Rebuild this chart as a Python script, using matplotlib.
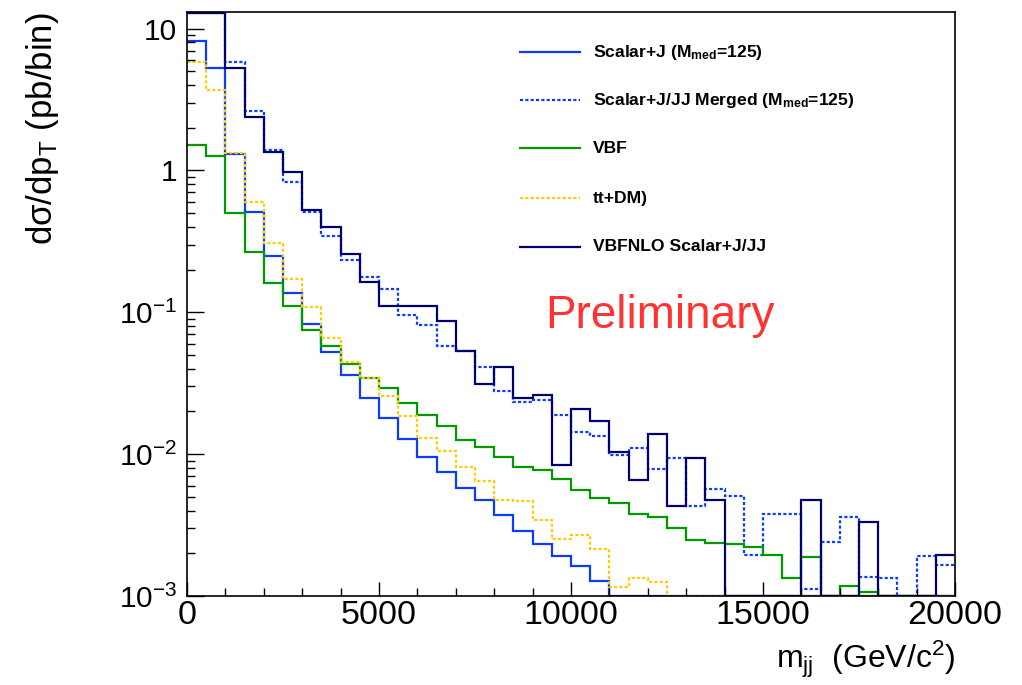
import numpy as np
import matplotlib
matplotlib.use("Agg")
import matplotlib.pyplot as plt
from matplotlib.ticker import FixedLocator, FixedFormatter, LogLocator, MultipleLocator, NullFormatter

plt.rcParams['font.family'] = ['Liberation Sans', 'DejaVu Sans']
plt.rcParams['mathtext.fontset'] = 'custom'
plt.rcParams['mathtext.rm'] = 'Liberation Sans'
plt.rcParams['mathtext.it'] = 'Liberation Sans:italic'
plt.rcParams['mathtext.bf'] = 'Liberation Sans:bold'

# ---------------- data ----------------
bin_edges = np.arange(0, 20001, 500)  # 40 bins of 500 GeV

scalar_j = [8.18, 5.31, 1.30, 0.508, 0.248, 0.137, 0.083, 0.0528, 0.0361, 0.0249,
            0.0180, 0.0128, 0.00953, 0.00743, 0.00577, 0.00477, 0.00374, 0.00288, 0.00233, 0.00192,
            0.00162, 0.00128, 0, 0, 0, 0, 0, 0, 0, 0,
            0, 0, 0, 0, 0, 0, 0, 0, 0, 0]

scalar_merged = [13.1, 13.1, 5.82, 2.62, 1.39, 0.83, 0.51, 0.346, 0.232, 0.178,
                 0.145, 0.0957, 0.0815, 0.0577, 0.053, 0.0414, 0.0279, 0.0233, 0.0239, 0.0188,
                 0.0144, 0.0135, 0.00989, 0.0111, 0.0078, 0.00942, 0.00431, 0.0057, 0.0051, 0.00193,
                 0.0038, 0.0038, 0.00112, 0.00241, 0.00358, 0.00136, 0.00134, 0, 0.0019, 0.00165]

vbf = [1.52, 1.26, 0.50, 0.267, 0.160, 0.111, 0.075, 0.0582, 0.0433, 0.0347,
       0.0294, 0.0229, 0.0189, 0.0159, 0.0125, 0.0112, 0.00957, 0.00818, 0.0077, 0.0067,
       0.00557, 0.00492, 0.00449, 0.00376, 0.0036, 0.00303, 0.00248, 0.00237, 0.00233, 0.00221,
       0.00196, 0.00133, 0.00189, 0, 0.00118, 0.00106, 0, 0, 0, 0]

ttdm = [5.82, 3.72, 1.32, 0.596, 0.306, 0.173, 0.109, 0.0662, 0.0445, 0.0343,
        0.0259, 0.0187, 0.0131, 0.0105, 0.00809, 0.00652, 0.00477, 0.00469, 0.00344, 0.00252,
        0.00269, 0.00215, 0.00116, 0.00133, 0.00126, 0, 0, 0, 0, 0,
        0, 0, 0, 0, 0, 0, 0, 0, 0, 0]

vbfnlo = [13.1, 13.1, 5.25, 2.39, 1.35, 0.977, 0.525, 0.397, 0.258, 0.163,
          0.111, 0.111, 0.111, 0.0865, 0.0531, 0.0313, 0.0412, 0.0249, 0.0262, 0.00841,
          0.0207, 0.0172, 0.0104, 0.00656, 0.0139, 0.00434, 0.00938, 0.00474, 0, 0,
          0, 0, 0.00477, 0, 0, 0.00335, 0, 0, 0, 0.00193]

legend_labels = [r"Scalar+J (M$_{\mathbf{med}}$=125)",
                 r"Scalar+J/JJ Merged (M$_{\mathbf{med}}$=125)",
                 "VBF",
                 "tt+DM)",
                 "VBFNLO Scalar+J/JJ"]

x_ticks = [0, 5000, 10000, 15000, 20000]
x_tick_labels = ["0", "5000", "10000", "15000", "20000"]
y_ticks = [1e-3, 1e-2, 1e-1, 1, 10]
y_tick_labels = [r"$\mathregular{10^{-3}}$", r"$\mathregular{10^{-2}}$", r"$\mathregular{10^{-1}}$", "1", "10"]

# ---------------- style ----------------
y_min, y_max = 1e-3, 13.1
dotted = (0, (1.4, 1.0))
series = [
    (scalar_j, '#0a3cff', '-'),
    (scalar_merged, '#0a3cff', dotted),
    (vbf, '#009a00', '-'),
    (ttdm, '#ffcc00', dotted),
    (vbfnlo, '#00006e', '-'),
]

fig = plt.figure(figsize=(10.22, 6.85), dpi=100)
ax = fig.add_axes([187/1022, 1-596/685, 768/1022, 584/685])

for vals, col, ls in series:
    # empty bins sit on the frame floor; overflowing bins are drawn just under the frame top
    v = np.clip(np.asarray(vals, dtype=float), y_min, y_max * 0.985)
    ax.stairs(v, bin_edges, baseline=None, color=col, linestyle=ls, linewidth=1.6)

ax.set_yscale('log')
ax.set_xlim(0, 20000)
ax.set_ylim(y_min, y_max)

ax.xaxis.set_major_locator(FixedLocator(x_ticks))
ax.xaxis.set_major_formatter(FixedFormatter(x_tick_labels))
ax.xaxis.set_minor_locator(MultipleLocator(1000))
ax.yaxis.set_major_locator(FixedLocator(y_ticks))
ax.yaxis.set_major_formatter(FixedFormatter(y_tick_labels))
ax.yaxis.set_minor_locator(LogLocator(base=10, subs=np.arange(2, 10)))
ax.yaxis.set_minor_formatter(NullFormatter())

ax.tick_params(axis='x', which='major', direction='in', length=10, width=1, labelsize=24.5, pad=3)
ax.tick_params(axis='x', which='minor', direction='in', length=6, width=1)
ax.tick_params(axis='y', which='major', direction='in', length=12, width=1, labelsize=21.5, pad=7)
ax.tick_params(axis='y', which='minor', direction='in', length=6, width=1)
for s in ax.spines.values():
    s.set_linewidth(1.2)

ax.set_xlabel(r"m$_{\mathregular{jj}}$  (GeV/c$^{\mathregular{2}}$)", fontsize=23, loc='right')
ax.xaxis.set_label_coords(1.0, -0.073)
ax.set_ylabel(r"dσ/dp$_{\mathregular{T}}$ (pb/bin)", fontsize=25, loc='top')
ax.yaxis.set_label_coords(-0.164, 1.0)

# legend
leg_y = [0.931, 0.849, 0.767, 0.681, 0.598]
for (vals, col, ls), lab, yy in zip(series, legend_labels, leg_y):
    ax.plot([0.4336, 0.5117], [yy, yy], transform=ax.transAxes, color=col,
            linestyle=ls, linewidth=1.6, clip_on=False)
    ax.text(0.5286, yy, lab, transform=ax.transAxes, fontsize=12.6, fontweight='bold',
            va='center', ha='left')

ax.text(0.466, 0.459, "Preliminary", transform=ax.transAxes, fontsize=33,
        color='#ff3333', va='baseline', ha='left')

fig.savefig("out.png", dpi=100)
